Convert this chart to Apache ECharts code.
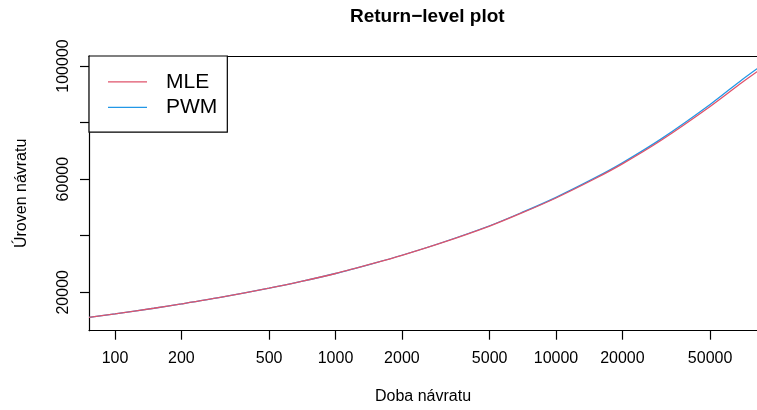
<!DOCTYPE html>
<html>
<head>
<meta charset="utf-8">
<script src="https://cdn.jsdelivr.net/npm/echarts@6/dist/echarts.min.js"></script>
<style>
html,body{margin:0;padding:0;background:#fff;}
#chart{width:757px;height:410px;}
</style>
</head>
<body>
<div id="chart"></div>
<script>
// Return periods (x, log scale)
const returnPeriods = [76.2, 100, 150, 200, 300, 500, 700, 1000, 1500, 2000, 3000, 5000, 7000, 10000, 15000, 20000, 30000, 50000, 70000, 90000];
// Return levels, MLE fit
const mleValues = [11150, 12400, 14370, 15900, 18200, 21450, 23850, 26650, 30300, 33050, 37350, 43400, 48050, 53350, 60130, 65400, 73760, 85700, 94250, 100300];
// Return levels, PWM fit
const pwmValues = [11150, 12400, 14370, 15900, 18200, 21450, 23850, 26650, 30330, 33100, 37430, 43530, 48230, 53580, 60430, 65770, 74240, 86400, 95250, 101440];
// Tick values
const xTickValues = [100, 200, 500, 1000, 2000, 5000, 10000, 20000, 50000];
const yTickValues = [20000, 40000, 60000, 80000, 100000];
const yLabelValues = [20000, 60000, 100000];

const FONT = '"Liberation Sans", Arial, Helvetica, sans-serif';
const chart = echarts.init(document.getElementById('chart'), null, {renderer: 'canvas'});

const mleData = returnPeriods.map((t, i) => [t, mleValues[i]]);
const pwmData = returnPeriods.map((t, i) => [t, pwmValues[i]]);
const X_MIN = 76.2, X_MAX = 81580;
const axisLineStyle = {color: '#000', width: 1.2};

chart.setOption({
  animation: false,
  backgroundColor: '#ffffff',
  title: {
    text: 'Return\u2212level plot',
    left: 350,
    top: 7,
    padding: 0,
    textStyle: {fontFamily: FONT, fontSize: 19, fontWeight: 'bold', color: '#000'}
  },
  grid: {
    left: 89, top: 56, right: 0, height: 274.7,
    show: false
  },
  legend: {
    data: ['MLE', 'PWM'],
    orient: 'vertical',
    left: 89, top: 56,
    padding: [13, 10, 12, 19],
    itemGap: 0,
    itemWidth: 39,
    itemHeight: 1.3,
    icon: 'rect',
    borderColor: '#000',
    borderWidth: 1.2,
    borderRadius: 0,
    backgroundColor: '#fff',
    textStyle: {fontFamily: FONT, fontSize: 21, color: '#000', lineHeight: 25.6, padding: [0, 0, 0, 14]}
  },
  xAxis: [
    {
      type: 'log',
      logBase: 10,
      min: X_MIN,
      max: X_MAX,
      position: 'bottom',
      name: 'Doba návratu',
      nameLocation: 'middle',
      nameGap: 58,
      nameTextStyle: {fontFamily: FONT, fontSize: 16, color: '#000'},
      axisLine: {show: true, lineStyle: axisLineStyle},
      splitLine: {show: false},
      minorTick: {show: false},
      axisTick: {show: true, customValues: xTickValues, length: 9, lineStyle: {color: '#000', width: 1.2}},
      axisLabel: {
        customValues: xTickValues,
        margin: 20,
        fontFamily: FONT, fontSize: 16, color: '#000',
        formatter: v => String(Math.round(v))
      }
    },
    {
      type: 'log',
      logBase: 10,
      min: X_MIN,
      max: X_MAX,
      position: 'top',
      axisLine: {show: true, lineStyle: axisLineStyle},
      axisTick: {show: false},
      axisLabel: {show: false},
      splitLine: {show: false},
      minorTick: {show: false}
    }
  ],
  yAxis: {
    type: 'value',
    min: 6429,
    max: 103534,
    name: 'Úroven návratu',
    nameLocation: 'middle',
    nameGap: 59,
    nameTextStyle: {fontFamily: FONT, fontSize: 16, color: '#000'},
    axisLine: {show: true, lineStyle: axisLineStyle},
    splitLine: {show: false},
    axisTick: {show: true, customValues: yTickValues, length: 9, lineStyle: {color: '#000', width: 1.2}},
    axisLabel: {
      customValues: yLabelValues,
      rotate: 90,
      margin: 17,
      fontFamily: FONT, fontSize: 16, color: '#000',
      formatter: v => String(Math.round(v))
    }
  },
  series: [
    {
      name: 'MLE', type: 'line', xAxisIndex: 0, data: mleData, showSymbol: false, symbol: 'none',
      smooth: 0.3, z: 3, color: '#DF536B', lineStyle: {color: '#DF536B', width: 1.3}
    },
    {
      name: 'PWM', type: 'line', xAxisIndex: 0, data: pwmData, showSymbol: false, symbol: 'none',
      smooth: 0.3, z: 2, color: '#2297E6', lineStyle: {color: '#2297E6', width: 1.3}
    }
  ]
});
</script>
</body>
</html>
